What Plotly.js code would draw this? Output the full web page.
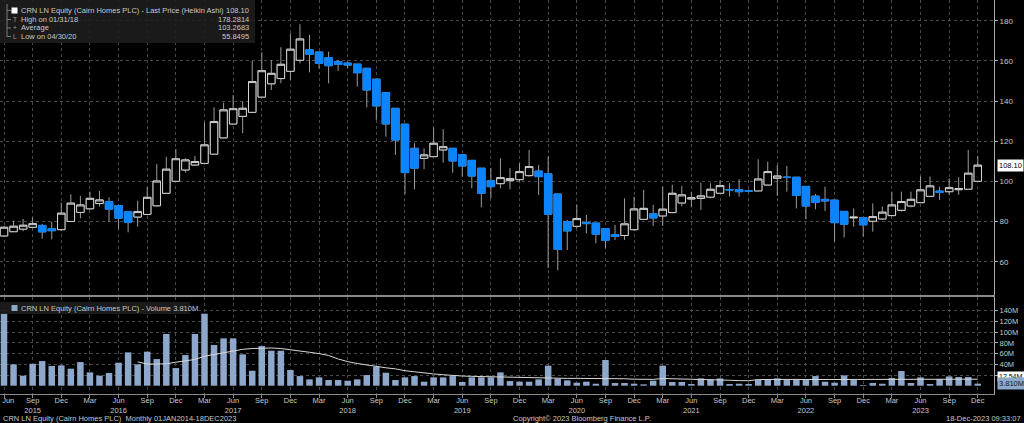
<!DOCTYPE html>
<html><head><meta charset="utf-8">
<script src="https://cdn.plot.ly/plotly-3.0.1.min.js"></script>
<style>html,body{margin:0;padding:0;background:#000;}#chart{width:1024px;height:423px;}</style>
</head><body><div id="chart"></div>
<script>
// ---- categories: monthly bars Jun 2015 .. Dec 2023 ----
const monthNames = ['Jan','Feb','Mar','Apr','May','Jun','Jul','Aug','Sep','Oct','Nov','Dec'];
const months = [];
for (let y = 2015, m = 5; y < 2024; ) { months.push(monthNames[m] + ' ' + y); m++; if (m === 12) { m = 0; y++; } }

// ---- Heikin Ashi series (GBp) ----
const haOpen = [72.9,75.0,76.3,77.2,78.1,76.5,76.0,80.1,84.6,86.4,89.0,89.9,88.0,84.9,82.3,83.6,87.9,94.1,100.1,105.7,
108.2,109.0,113.6,121.7,128.6,132.4,134.4,142.0,148.6,151.2,154.8,160.3,165.6,164.4,161.6,159.6,158.9,158.4,156.3,150.9,
144.2,136.4,128.5,116.5,111.5,112.35,115.7,116.5,113.35,110.5,106.6,100.35,98.9,100.4,100.9,102.9,105.15,103.8,93.75,80.0,
77.7,79.6,79.3,76.5,73.6,73.1,76.0,81.15,83.9,82.85,84.5,89.3,91.3,91.55,92.2,94.15,96.0,95.9,95.4,95.3,
98.25,101.6,102.15,102.1,97.55,92.7,91.1,90.7,85.1,81.9,82.05,80.2,81.35,83.0,85.65,87.8,89.45,92.6,95.2,94.9,
95.9,96.15,100.1];
const haHigh = [77.9,80.5,81.3,82.0,78.9,80.0,89.5,93.6,92.8,94.9,95.3,92.1,88.0,84.9,90.4,97.1,108.6,112.3,116.2,111.5,
112.7,129.3,136.9,139.2,143.0,139.7,160.1,164.3,160.4,166.8,173.7,178.28,172.9,164.4,164.6,160.5,159.5,158.4,156.3,150.9,
144.2,136.4,128.5,119.0,116.5,126.8,126.0,116.5,113.35,110.5,106.6,106.6,111.5,106.6,109.0,115.7,108.2,112.4,93.75,80.8,
88.3,83.3,79.3,76.5,78.4,91.6,92.5,95.8,88.3,97.4,98.3,97.8,94.9,99.4,99.1,100.4,99.1,101.1,96.0,111.0,
109.9,108.2,107.7,102.1,97.55,93.8,97.4,90.7,85.1,86.6,82.05,89.1,87.5,94.9,94.9,94.9,102.4,102.4,97.4,101.6,
102.1,115.7,112.7];
const haLow = [72.5,75.0,75.2,76.7,71.5,71.2,75.5,80.0,81.7,86.0,87.5,79.9,76.4,74.7,77.5,83.2,87.5,94.1,100.0,104.4,
107.7,109.0,113.6,121.5,128.5,124.0,134.4,141.9,145.5,148.9,150.5,158.8,154.3,156.3,148.8,155.0,156.5,147.2,136.9,130.6,
122.3,113.2,93.6,96.1,106.1,112.3,109.4,104.4,102.4,96.6,87.1,91.6,96.6,96.1,99.9,102.4,93.3,57.0,55.85,65.9,
76.7,74.2,69.2,66.7,70.9,70.9,75.5,80.8,77.9,77.9,84.5,87.6,87.1,85.8,91.6,93.8,92.5,92.5,94.6,95.3,
98.2,92.8,94.9,86.6,81.2,86.2,85.3,70.1,72.1,77.5,72.6,75.0,80.8,83.0,85.0,87.1,89.4,92.3,90.8,93.3,
93.3,96.1,100.1];
const haClose = [77.2,77.7,78.2,79.0,74.9,75.5,84.2,89.2,88.3,91.6,90.8,86.2,81.7,79.7,85.0,92.1,100.2,106.1,111.3,110.7,
109.9,118.2,129.8,135.6,136.2,136.4,149.7,155.1,153.8,158.3,165.8,170.9,163.3,158.8,157.6,158.3,157.9,154.1,145.5,137.6,
128.6,120.6,104.4,106.6,113.2,119.0,117.3,110.2,107.7,102.7,94.1,97.4,101.9,101.4,104.9,107.4,102.4,83.7,66.2,75.4,
81.5,79.0,73.7,70.7,72.6,78.9,86.3,86.6,81.8,86.2,94.1,93.3,91.8,92.8,96.1,97.9,95.8,94.9,95.2,101.2,
104.9,102.7,102.0,93.0,87.8,89.5,90.3,79.5,78.7,82.2,78.4,82.5,84.7,88.3,90.0,91.1,95.8,97.8,94.6,96.9,
96.4,104.1,108.1];

// ---- volume (millions) and its moving average ----
const volume = [135,40,18.7,41,46,36.8,38,31.8,44.2,24.9,18.7,23.7,43,62.3,40,63.6,49.8,96.6,33,57.3,
96.6,134.6,76,88.5,88.5,58.6,28,74.1,65.4,65.4,29.3,18,11.8,15.6,10.6,10.6,9.3,11.8,19.9,35.5,
24.3,10.6,15.6,18,7.5,15.6,15.6,18,6.9,15.6,15.6,15.6,24.9,8.7,7.5,7.5,11.8,37.4,13.1,10,
5.6,7.5,3.7,48,5,5,3.7,2.5,9.3,37.4,6.9,6.9,3.1,13.7,11.8,13.7,3.1,3.7,3.1,10.6,
11.8,13.7,10.6,11.8,10.6,18,7.5,5.6,19.3,10.6,1.2,5,3.7,14.3,27.4,5,15.6,3.1,12.5,17.4,
16.2,16.2,3.81];
const volumeMA = [null,null,null,null,null,null,null,null,null,null,null,null,null,null,44.5,40.5,40.5,41,44,46,
49,55,58.5,62,65.5,68,69.5,70.5,70.5,69.5,67.5,65,62.5,60,56.5,50,45,41.5,38.6,36,
33.5,31.5,28,26,23.5,22,20.5,19,18.1,17.5,17,16.6,16.2,15.8,15.4,15,14.5,14.3,14,13.7,
13.7,13.7,13.7,13.7,13.7,13,12.2,11.8,11.8,13.5,13.2,12.5,12,11.8,11.5,10.8,10.2,9.5,9.3,11.5,
11.8,11.8,11.8,11.8,11.5,11.5,11.5,11.5,11.8,11.8,11.5,11.5,11.5,11.8,12.2,12,12,11.8,12,12.2,
12.2,12.5,12.2];

// ---- tick labels ----
const priceTicks = [60,80,100,120,140,160,180];
const volTicks = [20,40,60,80,100,120,140];
const volTickText = ['20M','40M','60M','80M','100M','120M','140M'];
const yearLabelMonth = ['Sep 2015','Jun 2016','Jun 2017','Jun 2018','Jun 2019','Jun 2020','Jun 2021','Jun 2022','Jun 2023'];
const yearLabels = ['2015','2016','2017','2018','2019','2020','2021','2022','2023'];
const quarterMonths = ['Mar','Jun','Sep','Dec'];

// legend texts
const legendRows = ['CRN LN Equity (Cairn Homes PLC) - Last Price (Heikin Ashi)','High on 01/31/18','Average','Low on 04/30/20'];
const legendVals = ['108.10','178.2814','103.2683','55.8495'];
const legendMarks = ['','T','+','L'];
const volLegend = 'CRN LN Equity (Cairn Homes PLC) - Volume 3.810M';
const lastPriceLabel = '108.10', lastVolLabel = '3.810M', maLabel = '12.54M';

const idx = months.map((_, i) => i);
const tickIdx = idx.filter(i => quarterMonths.includes(months[i].split(' ')[0]));
const tickText = tickIdx.map((i, n) => {
  const k = yearLabelMonth.indexOf(months[i]);
  const name = months[i].split(' ')[0];
  return (n === 0 ? '&nbsp;&nbsp;&nbsp;&nbsp;' + name : name) + (k >= 0 ? '<br>' + yearLabels[k] : '');
});
const yearEndIdx = idx.filter(i => months[i].startsWith('Dec'));
const bodyTop = haOpen.map((o, i) => Math.max(o, haClose[i]));
const bodyBot = haOpen.map((o, i) => Math.min(o, haClose[i]));

const FONT = '"Liberation Sans",Arial,sans-serif';
const FS = 7.5;
const TXT = '#c8c8c8', GRID = '#4a4a4a', AX = '#8a8a8a';
const W = 994, H = 394;
const px = v => v / W, py = v => (H - v) / H;
const XR = [-0.42, 103.7];

const traces = [
  { type:'candlestick', x: idx, open: haOpen, high: haHigh, low: haLow, close: haClose,
    xaxis:'x', yaxis:'y', whiskerwidth:0, hoverinfo:'skip',
    increasing:{line:{color:'#9c9c9c', width:1}, fillcolor:'rgba(0,0,0,0)'},
    decreasing:{line:{color:'#9c9c9c', width:1}, fillcolor:'rgba(0,0,0,0)'} },
  { type:'candlestick', x: idx, open: haOpen, high: bodyTop, low: bodyBot, close: haClose,
    xaxis:'x', yaxis:'y', whiskerwidth:0, hoverinfo:'skip',
    increasing:{line:{color:'#d4d4d4', width:1}, fillcolor:'#000000'},
    decreasing:{line:{color:'#0a84ff', width:1}, fillcolor:'#0a84ff'} },
  { type:'bar', x: idx, y: volume, xaxis:'x2', yaxis:'y2', marker:{color:'#8ea8cc', line:{width:0}}, hoverinfo:'skip' },
  { type:'scatter', mode:'lines', x: idx, y: volumeMA, xaxis:'x2', yaxis:'y2',
    line:{color:'#d8d8d8', width:1}, connectgaps:false, hoverinfo:'skip' }
];

const ann = [];
const rowY = [10.5, 19.5, 28, 36.5];
legendRows.forEach((t, k) => {
  ann.push({xref:'paper', yref:'paper', x:px(19), y:py(rowY[k]), xanchor:'left', yanchor:'middle', text:t, showarrow:false, font:{size:FS, color:TXT}});
  ann.push({xref:'paper', yref:'paper', x:px(251), y:py(rowY[k]), xanchor:'right', yanchor:'middle', text:legendVals[k], showarrow:false, font:{size:FS, color:TXT}});
  if (legendMarks[k]) ann.push({xref:'paper', yref:'paper', x:px(15), y:py(rowY[k]), xanchor:'center', yanchor:'middle', text:legendMarks[k], showarrow:false, font:{size:6.5, color:'#9a9a9a'}});
});
ann.push({xref:'paper', yref:'paper', x:px(19), y:py(308), xanchor:'left', yanchor:'middle', text:volLegend, showarrow:false, font:{size:FS, color:TXT}});
ann.push({xref:'paper', yref:'y', x:px(997), y:haClose[haClose.length-1], xanchor:'left', yanchor:'middle', text:lastPriceLabel, showarrow:false, bgcolor:'#ffffff', borderpad:1, font:{size:FS, color:'#000'}});
ann.push({xref:'paper', yref:'y2', x:px(997), y:17.5, xanchor:'left', yanchor:'middle', text:maLabel, showarrow:false, bgcolor:'#ffffff', borderpad:1, font:{size:7, color:'#000'}});
ann.push({xref:'paper', yref:'y2', x:px(997), y:volume[volume.length-1], xanchor:'left', yanchor:'middle', text:lastVolLabel, showarrow:false, bgcolor:'#8ea8cc', borderpad:1, font:{size:FS, color:'#0b1830'}});
ann.push({xref:'paper', yref:'paper', x:px(1), y:py(418.3), xanchor:'left', yanchor:'middle', text:'CRN LN Equity (Cairn Homes PLC)  Monthly 01JAN2014-18DEC2023', showarrow:false, font:{size:FS, color:TXT}});
ann.push({xref:'paper', yref:'paper', x:px(582), y:py(418.3), xanchor:'center', yanchor:'middle', text:'Copyright© 2023 Bloomberg Finance L.P.', showarrow:false, font:{size:FS, color:TXT}});
ann.push({xref:'paper', yref:'paper', x:px(1023), y:py(418.3), xanchor:'right', yanchor:'middle', text:'18-Dec-2023 09:33:07', showarrow:false, font:{size:FS, color:TXT}});

const shapes = [
  {type:'rect', xref:'paper', yref:'paper', x0:0, x1:px(255), y0:py(43), y1:1, fillcolor:'rgba(30,30,30,0.88)', line:{width:0}, layer:'above'},
  {type:'rect', xref:'paper', yref:'paper', x0:px(11.5), x1:px(17.5), y0:py(13.5), y1:py(7.5), fillcolor:'#ffffff', line:{width:0}, layer:'above'},
  {type:'path', xref:'paper', yref:'paper', layer:'above', line:{color:'#7a7a7a', width:1},
   path:`M ${px(7)},${py(4)} L ${px(7)},${py(37)} M ${px(7)},${py(10.5)} L ${px(11)},${py(10.5)} M ${px(7)},${py(19.5)} L ${px(11)},${py(19.5)} M ${px(7)},${py(28)} L ${px(11)},${py(28)} M ${px(7)},${py(36.5)} L ${px(11)},${py(36.5)}`},
  {type:'rect', xref:'paper', yref:'paper', x0:0, x1:px(190), y0:py(314), y1:py(302), fillcolor:'rgba(30,30,30,0.88)', line:{width:0}, layer:'above'},
  {type:'rect', xref:'paper', yref:'paper', x0:px(11.5), x1:px(17.5), y0:py(311), y1:py(305), fillcolor:'#8ea8cc', line:{width:0}, layer:'above'}
];

const gridCommon = {showgrid:true, gridcolor:GRID, griddash:'dot', gridwidth:1, zeroline:false};
const layout = {
  width:1024, height:423, paper_bgcolor:'#000', plot_bgcolor:'#000',
  margin:{l:0, r:30, t:0, b:29, pad:0}, showlegend:false,
  boxmode:'overlay', boxgap:0.22, boxgroupgap:0, bargap:0.32,
  font:{family:FONT, size:FS, color:TXT},
  xaxis:Object.assign({domain:[0,1], range:XR, autorange:false, anchor:'y', tickmode:'array', tickvals:tickIdx,
    showticklabels:false, ticks:'', showline:true, linecolor:AX, linewidth:2, rangeslider:{visible:false}}, gridCommon),
  yaxis:Object.assign({domain:[0.2513,1], range:[43.5,190.3], autorange:false, side:'right', anchor:'x',
    tickmode:'array', tickvals:priceTicks, ticks:'outside', ticklen:3, tickcolor:'#aaaaaa',
    showline:true, linecolor:'#aaaaaa', tickfont:{size:8, color:TXT}}, gridCommon),
  xaxis2:Object.assign({domain:[0,1], range:XR, autorange:false, anchor:'y2', tickmode:'array', tickvals:tickIdx, ticktext:tickText,
    ticks:'outside', ticklen:3, tickcolor:AX, showline:true, linecolor:AX, ticklabelstandoff:-4, ticklabeloverflow:'allow',
    tickfont:{size:FS, color:TXT}}, gridCommon),
  yaxis2:Object.assign({domain:[0,0.2462], range:[-15.5,165.8], autorange:false, side:'right', anchor:'x2',
    tickmode:'array', tickvals:volTicks, ticktext:volTickText, ticks:'outside', ticklen:3, tickcolor:'#aaaaaa',
    showline:true, linecolor:'#aaaaaa', tickfont:{size:FS, color:TXT}}, gridCommon),
  xaxis3:{overlaying:'x2', anchor:'y2', range:XR, autorange:false, tickmode:'array', tickvals:yearEndIdx,
    ticktext:yearEndIdx.map(() => ''), ticks:'outside', ticklen:9, tickcolor:AX, showgrid:false, zeroline:false,
    showline:false, showticklabels:false},
  annotations:ann, shapes:shapes
};
Plotly.newPlot('chart', traces, layout, {displayModeBar:false, staticPlot:true});
</script></body></html>
